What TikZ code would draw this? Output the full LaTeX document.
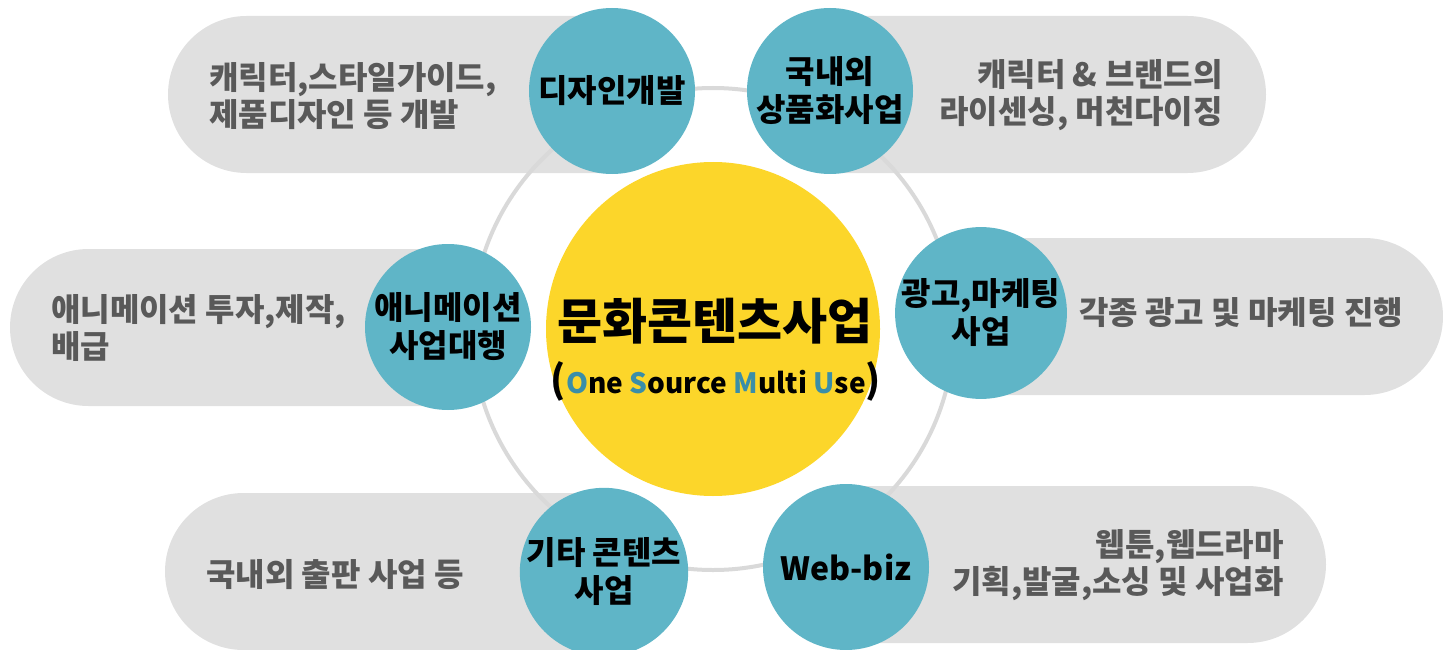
\documentclass[tikz,border=0pt]{standalone}
\usepackage{fontspec}
\setmainfont{Noto Sans CJK KR}
\definecolor{pillgray}{HTML}{E0E0E0}
\definecolor{ringgray}{HTML}{D9D9D9}
\definecolor{tealfill}{HTML}{5FB5C7}
\definecolor{sunyellow}{HTML}{FCD62A}
\definecolor{txtgray}{HTML}{595959}
\definecolor{osmublue}{HTML}{3A8EA8}
\tikzset{
  pill/.style={fill=pillgray, rounded corners=78.5pt},
  tealcirc/.style={circle, fill=tealfill, minimum size=166pt, inner sep=0pt, align=center,
    text=black, font=\bfseries\fontsize{32}{38}\selectfont},
  ptext/.style={text=txtgray, inner sep=0pt, font=\bfseries\fontsize{32}{37}\selectfont},
}
\begin{document}
\begin{tikzpicture}[x=1pt,y=-1pt]
\useasboundingbox (0,0) rectangle (1443,650);
% pills
\fill[pill] (168,16) rectangle (690.5,173);
\fill[pill] (751.5,16) rectangle (1266,173);
\fill[pill] (10,249) rectangle (526.5,406);
\fill[pill] (902.5,238) rectangle (1443,395);
\fill[pill] (165,493) rectangle (682.5,650);
\fill[pill] (767.5,486) rectangle (1326,643);
% ring
\draw[ringgray, line width=4pt] (713,329) circle[radius=241];
% centre
\fill[sunyellow] (713,329) circle[radius=167];
\node[font=\bfseries\fontsize{49}{49}\selectfont, inner sep=0pt] (title) at (715,321) {문화콘텐츠사업};
\node[font=\bfseries\fontsize{28}{28}\selectfont, inner sep=0pt] (osmu) at (716,381)
  {{\fontsize{38}{38}\selectfont(}\textcolor{osmublue}{O}ne \textcolor{osmublue}{S}ource \textcolor{osmublue}{M}ulti \textcolor{osmublue}{U}se{\fontsize{38}{38}\selectfont)}};
% teal circles
\node[tealcirc] (c1) at (612,91) {디자인개발};
\node[tealcirc] (c2) at (830,91) {국내외\\상품화사업};
\node[tealcirc] (c3) at (448,327) {애니메이션\\사업대행};
\node[tealcirc] (c4) at (981,313) {광고,마케팅\\사업};
\node[tealcirc] (c5) at (604,572) {기타 콘텐츠\\사업};
\node[tealcirc] (c6) at (846,567) {Web-biz};
% pill texts
\node[ptext, anchor=west, align=left] (t1) at (209,96) {캐릭터,스타일가이드,\\제품디자인 등 개발};
\node[ptext, anchor=east, align=right] (t2) at (1223,95) {캐릭터 \& 브랜드의\\라이센싱, 머천다이징};
\node[ptext, anchor=west, align=left] (t3) at (51,328) {애니메이션 투자,제작,\\배급};
\node[ptext, anchor=west] (t4) at (1079,313) {각종 광고 및 마케팅 진행};
\node[ptext, anchor=west] (t5) at (206,575) {국내외 출판 사업 등};
\node[ptext, anchor=east, align=right] (t6) at (1284,565) {웹툰,웹드라마\\기획,발굴,소싱 및 사업화};
\end{tikzpicture}
\end{document}
